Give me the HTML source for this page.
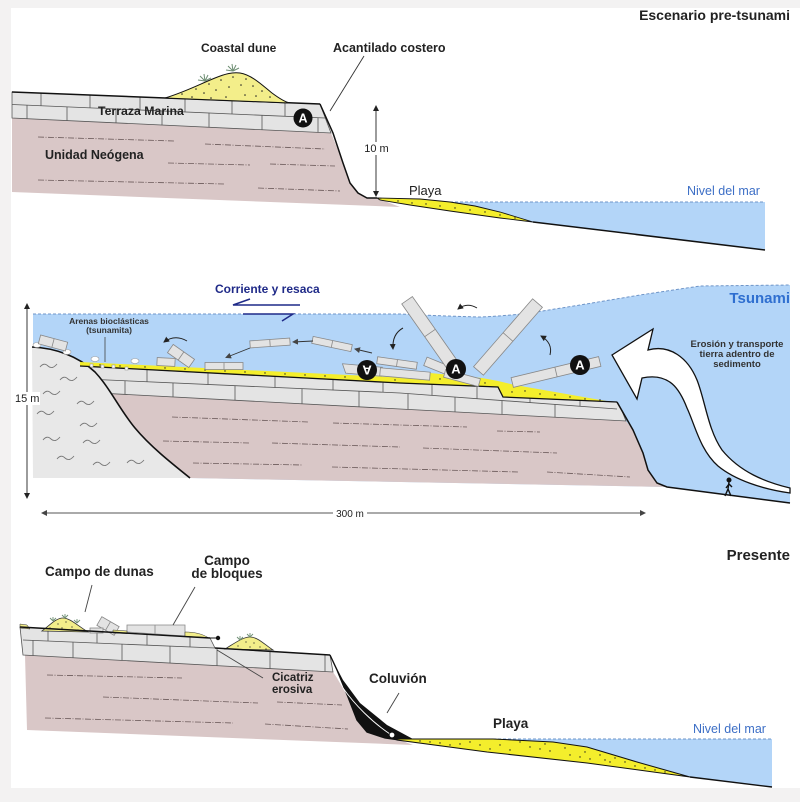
<!DOCTYPE html>
<html><head><meta charset="utf-8"><style>
html,body{margin:0;padding:0;background:#f3f2f2;}
svg{display:block;}
text{font-family:"Liberation Sans",Arial,sans-serif;}
</style></head><body>
<svg width="800" height="802" viewBox="0 0 800 802" xmlns="http://www.w3.org/2000/svg">
<defs>
<marker id="ah" markerWidth="8" markerHeight="8" refX="5" refY="3" orient="auto-start-reverse" markerUnits="userSpaceOnUse"><path d="M0,0 L6,3 L0,6 Z" fill="#222"/></marker>
<marker id="ahg" markerWidth="8" markerHeight="8" refX="5" refY="3" orient="auto-start-reverse" markerUnits="userSpaceOnUse"><path d="M0,0 L6,3 L0,6 Z" fill="#444"/></marker>
</defs>
<rect width="800" height="802" fill="#f3f2f2"/>
<rect x="11" y="8" width="789" height="780" fill="#fff"/>

<!-- ================= TOP PANEL ================= -->
<polygon points="12,118 331,133 338,150 343,163 350,183 358,193 367,198 377,198 400,207 12,192" fill="#d9c7c7"/>
<g stroke="#6b5a5a" stroke-width="0.8" stroke-dasharray="6 1.5 1 1.5">
<line x1="38" y1="137" x2="175" y2="141"/><line x1="205" y1="144" x2="325" y2="149"/>
<line x1="168" y1="163" x2="250" y2="165"/><line x1="270" y1="164" x2="335" y2="166"/>
<line x1="38" y1="180" x2="225" y2="184"/><line x1="258" y1="188" x2="340" y2="191"/>
</g>
<polygon points="12,92 320,104 331,133 12,118" fill="#e4e4e4" stroke="#555" stroke-width="0.8"/>
<g stroke="#555" stroke-width="0.8">
<line x1="12" y1="104.5" x2="325" y2="118"/>
<line x1="41" y1="93.1" x2="41" y2="105.8"/><line x1="90" y1="95" x2="90" y2="107.9"/>
<line x1="140" y1="97" x2="140" y2="110"/><line x1="185" y1="98.7" x2="185" y2="112"/>
<line x1="232" y1="100.6" x2="232" y2="114"/><line x1="285" y1="102.6" x2="285" y2="116.3"/>
<line x1="27" y1="105.1" x2="27" y2="118.7"/><line x1="67" y1="106.9" x2="67" y2="120.6"/>
<line x1="116" y1="109" x2="116" y2="122.9"/><line x1="162" y1="111" x2="162" y2="125.1"/>
<line x1="209" y1="113" x2="209" y2="127.3"/><line x1="262" y1="115.3" x2="262" y2="129.8"/>
<line x1="318" y1="117.7" x2="318" y2="132.4"/>
</g>
<line x1="12" y1="92" x2="320" y2="104" stroke="#111" stroke-width="1.5"/>
<polyline points="320,104 333,133 343,163 350,183 358,193 367,198 377,198" fill="none" stroke="#111" stroke-width="1.5"/>
<!-- dune -->
<path d="M165,98 C185,92 200,84 215,78 C225,74 232,72 240,73 C252,75 262,85 272,93 C280,99 285,102 290,103 Z" fill="#f3ee8a" stroke="#111" stroke-width="1"/>
<g fill="#222">
<circle cx="182" cy="94" r="0.8"/><circle cx="196" cy="89" r="0.8"/><circle cx="209" cy="84" r="0.8"/><circle cx="221" cy="80" r="0.8"/><circle cx="233" cy="77" r="0.8"/><circle cx="246" cy="79" r="0.8"/>
<circle cx="192" cy="97" r="0.8"/><circle cx="204" cy="93" r="0.8"/><circle cx="216" cy="90" r="0.8"/><circle cx="229" cy="87" r="0.8"/><circle cx="241" cy="85" r="0.8"/><circle cx="253" cy="86" r="0.8"/>
<circle cx="262" cy="91" r="0.8"/><circle cx="226" cy="97" r="0.8"/><circle cx="245" cy="95" r="0.8"/><circle cx="270" cy="97" r="0.8"/><circle cx="211" cy="98" r="0.8"/><circle cx="256" cy="96" r="0.8"/>
</g>
<g stroke="#6f8f74" stroke-width="1">
<path d="M205,81 l-5,-5 M205,81 l-1,-7 M205,81 l3,-6 M205,81 l6,-3 M205,81 l-7,-1"/>
<path d="M233,71 l-5,-5 M233,71 l-1,-7 M233,71 l3,-6 M233,71 l6,-3 M233,71 l-7,-1"/>
</g>
<circle cx="303" cy="118" r="9.5" fill="#111"/>
<text x="303" y="122.5" font-size="12.5" font-weight="bold" fill="#fff" text-anchor="middle">A</text>
<!-- water -->
<polygon points="450,202 765,202 765,250 533,222 500,212 475,206" fill="#b3d5f8"/>
<line x1="445" y1="202" x2="765" y2="202" stroke="#6f95c8" stroke-width="1" stroke-dasharray="3 2"/>
<polygon points="377,198 420,199 450,202 475,206 500,212 533,222 500,218 450,211 410,205 380,200" fill="#f4ee2c" stroke="#111" stroke-width="0.9"/>
<g fill="#222">
<circle cx="398" cy="201" r="0.7"/><circle cx="412" cy="203" r="0.7"/><circle cx="426" cy="204" r="0.7"/><circle cx="440" cy="206" r="0.7"/><circle cx="455" cy="208" r="0.7"/><circle cx="470" cy="210" r="0.7"/><circle cx="485" cy="212" r="0.7"/><circle cx="500" cy="215" r="0.7"/><circle cx="515" cy="218" r="0.7"/>
</g>
<line x1="533" y1="222" x2="765" y2="250" stroke="#111" stroke-width="1.5"/>
<line x1="376" y1="106" x2="376" y2="196" stroke="#222" stroke-width="0.9" marker-start="url(#ah)" marker-end="url(#ah)"/>
<rect x="363" y="142" width="27" height="13" fill="#fff"/>
<text x="376.5" y="152" font-size="11" fill="#222" text-anchor="middle">10 m</text>
<line x1="364" y1="56" x2="330" y2="111" stroke="#333" stroke-width="0.9"/>
<text x="790" y="20" font-size="14" font-weight="bold" fill="#222" text-anchor="end">Escenario pre-tsunami</text>
<text x="201" y="52" font-size="12" font-weight="bold" fill="#222">Coastal dune</text>
<text x="333" y="52" font-size="12.5" font-weight="bold" fill="#222">Acantilado costero</text>
<text x="98" y="115" font-size="12.3" font-weight="bold" fill="#222">Terraza Marina</text>
<text x="45" y="159" font-size="12.5" font-weight="bold" fill="#222">Unidad Neógena</text>
<text x="409" y="195" font-size="13" fill="#222">Playa</text>
<text x="687" y="195" font-size="12.5" fill="#3d6fc6">Nivel del mar</text>

<!-- ================= MIDDLE PANEL ================= -->
<path d="M33,314 L400,314 Q440,316 480,317 Q505,316 530,313 L580,305 L640,295 L700,286 L790,285 L790,503 L667,487 L190,478 L33,478 Z" fill="#b3d5f8"/>
<path d="M33,314 L400,314 Q440,316 480,317 Q505,316 530,313 L580,305 L640,295 L700,286 L790,285" fill="none" stroke="#6f95c8" stroke-width="1" stroke-dasharray="3 2"/>
<polygon points="80,392 626,421 633,430 643,453 648,470 657,483 667,487 190,478 80,478" fill="#d9c7c7"/>
<g stroke="#6b5a5a" stroke-width="0.8" stroke-dasharray="6 1.5 1 1.5">
<line x1="172" y1="417" x2="308" y2="422"/><line x1="333" y1="423" x2="467" y2="427"/><line x1="497" y1="431" x2="540" y2="432"/>
<line x1="163" y1="441" x2="250" y2="443"/><line x1="272" y1="443" x2="400" y2="447"/><line x1="423" y1="448" x2="557" y2="453"/>
<line x1="193" y1="463" x2="303" y2="465"/><line x1="332" y1="467" x2="518" y2="472"/><line x1="547" y1="472" x2="630" y2="477"/>
</g>
<polygon points="80,366 400,383 498,387 503,397 617,402 622,411 626,421 80,392" fill="#e4e4e4" stroke="#555" stroke-width="0.8"/>
<g stroke="#555" stroke-width="0.8">
<polyline points="85,379 400,393 617,409" fill="none"/>
<line x1="147" y1="369.8" x2="147" y2="382"/><line x1="208" y1="373.2" x2="208" y2="384.7"/><line x1="275" y1="376.5" x2="275" y2="387.7"/>
<line x1="333" y1="379.6" x2="333" y2="390.3"/><line x1="383" y1="382.2" x2="383" y2="392.5"/><line x1="432" y1="384.5" x2="432" y2="395.4"/>
<line x1="477" y1="386.2" x2="477" y2="398.7"/><line x1="530" y1="398.5" x2="530" y2="402.6"/><line x1="580" y1="401" x2="580" y2="406.3"/>
<line x1="125" y1="380.8" x2="125" y2="394.4"/><line x1="173" y1="382.9" x2="173" y2="396.9"/><line x1="235" y1="385.7" x2="235" y2="400.2"/>
<line x1="302" y1="388.6" x2="302" y2="403.8"/><line x1="359" y1="391.2" x2="359" y2="406.8"/><line x1="408" y1="393.6" x2="408" y2="409.4"/>
<line x1="455" y1="397" x2="455" y2="411.9"/><line x1="502" y1="400.5" x2="502" y2="414.4"/><line x1="555" y1="404.4" x2="555" y2="417.2"/>
</g>
<polyline points="617,402 633,430 643,453 648,470 657,483 667,487 790,503" fill="none" stroke="#111" stroke-width="1.5"/>
<!-- hill -->
<path d="M32,347 C55,348 78,356 95,372 C110,388 120,410 135,428 C150,446 170,462 190,478 L33,478 Z" fill="#e8e8e8"/>
<path d="M32,347 C55,348 78,356 95,372 C110,388 120,410 135,428 C150,446 170,462 190,478" fill="none" stroke="#111" stroke-width="1.6"/>
<g fill="none" stroke="#777" stroke-width="0.9">
<path d="M40,367 q4,-5 8,-1 q4,4 9,-2"/><path d="M60,380 q4,-5 8,-1 q4,4 9,-2"/><path d="M43,394 q4,-5 8,-1 q4,4 9,-2"/>
<path d="M37,414 q4,-5 8,-1 q4,4 9,-2"/><path d="M77,404 q4,-5 8,-1 q4,4 9,-2"/><path d="M80,426 q4,-5 8,-1 q4,4 9,-2"/>
<path d="M43,440 q4,-5 8,-1 q4,4 9,-2"/><path d="M83,443 q4,-5 8,-1 q4,4 9,-2"/><path d="M57,459 q4,-5 8,-1 q4,4 9,-2"/>
<path d="M93,465 q4,-5 8,-1 q4,4 9,-2"/><path d="M127,463 q4,-5 8,-1 q4,4 9,-2"/>
</g>
<!-- tsunamite band -->
<polygon points="80,362 400,377.5 430,373 482,378 498,381 515,385 612,402 503,397 498,387 400,383 80,366" fill="#f4ee2c"/>
<polyline points="80,366 400,383 498,387 503,397 617,402" fill="none" stroke="#111" stroke-width="1.3"/>
<g fill="#222">
<circle cx="100" cy="365" r="0.7"/><circle cx="120" cy="366" r="0.7"/><circle cx="145" cy="367" r="0.7"/><circle cx="165" cy="368" r="0.7"/><circle cx="185" cy="369" r="0.7"/><circle cx="205" cy="370" r="0.7"/>
<circle cx="225" cy="371" r="0.7"/><circle cx="245" cy="372" r="0.7"/><circle cx="265" cy="373" r="0.7"/><circle cx="285" cy="374" r="0.7"/><circle cx="305" cy="375" r="0.7"/><circle cx="325" cy="376" r="0.7"/>
<circle cx="345" cy="377" r="0.7"/><circle cx="395" cy="380" r="0.7"/><circle cx="440" cy="379" r="0.7"/><circle cx="460" cy="381" r="0.7"/><circle cx="485" cy="383" r="0.7"/>
<circle cx="512" cy="392" r="0.7"/><circle cx="525" cy="391" r="0.7"/><circle cx="540" cy="394" r="0.7"/><circle cx="555" cy="395" r="0.7"/><circle cx="570" cy="397" r="0.7"/><circle cx="585" cy="399" r="0.7"/><circle cx="600" cy="400" r="0.7"/>
</g>
<g fill="#fff" stroke="#999" stroke-width="0.6">
<rect x="90" y="364" width="3" height="3"/><rect x="101" y="365" width="3" height="3"/><rect x="112" y="365" width="3" height="3"/><rect x="125" y="367" width="3" height="3"/>
<ellipse cx="37" cy="345" rx="4" ry="2.5"/><ellipse cx="67" cy="352" rx="4" ry="2.5"/><ellipse cx="95" cy="359" rx="4" ry="2.5"/><ellipse cx="135" cy="361" rx="4" ry="2.5"/>
</g>
<!-- blocks -->
<g fill="#e3e3e3" stroke="#888" stroke-width="0.8">
<g transform="translate(53,343) rotate(15)"><rect x="-14" y="-4.5" width="28" height="9"/><line x1="0" y1="-4.5" x2="0" y2="4.5"/></g>
<g transform="translate(166,362) rotate(3)"><rect x="-9" y="-4" width="18" height="8"/></g>
<g transform="translate(181,356) rotate(35)"><rect x="-13" y="-5" width="26" height="10"/><line x1="0" y1="-5" x2="0" y2="5"/></g>
<g transform="translate(224,366) rotate(0)"><rect x="-19" y="-3.5" width="38" height="7"/><line x1="0" y1="-3.5" x2="0" y2="3.5"/></g>
<g transform="translate(270,343) rotate(-4)"><rect x="-20" y="-3.5" width="40" height="7"/><line x1="0" y1="-3.5" x2="0" y2="3.5"/></g>
<g transform="translate(332,344) rotate(12)"><rect x="-20" y="-3.5" width="40" height="7"/><line x1="0" y1="-3.5" x2="0" y2="3.5"/></g>
<g transform="translate(362,370) rotate(5)"><polygon points="-20,-4.5 20,-4.5 20,4.5 -16,4.5"/></g>
<g transform="translate(397,363) rotate(8)"><rect x="-20" y="-3.5" width="40" height="7"/><line x1="0" y1="-3.5" x2="0" y2="3.5"/></g>
<g transform="translate(405,374) rotate(5)"><rect x="-25" y="-4" width="50" height="8"/></g>
<g transform="translate(437,366) rotate(22)"><rect x="-12.5" y="-4.5" width="25" height="9"/></g>
<g transform="translate(462,378) rotate(15)"><rect x="-18" y="-4" width="36" height="8"/></g>
<g transform="translate(430,333) rotate(55)"><rect x="-40" y="-6.5" width="80" height="13"/><line x1="0" y1="-6.5" x2="0" y2="6.5"/></g>
<g transform="translate(508,337) rotate(131)"><rect x="-45" y="-6.5" width="90" height="13"/><line x1="0" y1="-6.5" x2="0" y2="6.5"/></g>
<g transform="translate(556,372) rotate(-13.5)"><rect x="-45" y="-5" width="90" height="10"/><line x1="0" y1="-5" x2="0" y2="5"/></g>
</g>
<g>
<circle cx="367" cy="370" r="10" fill="#111"/>
<text x="367" y="374.5" font-size="13" font-weight="bold" fill="#fff" text-anchor="middle" transform="rotate(180 367 370)">A</text>
<circle cx="456" cy="369" r="10" fill="#111"/>
<text x="456" y="373.5" font-size="13" font-weight="bold" fill="#fff" text-anchor="middle">A</text>
<circle cx="580" cy="365" r="10" fill="#111"/>
<text x="580" y="369.5" font-size="13" font-weight="bold" fill="#fff" text-anchor="middle">A</text>
</g>
<!-- arrows -->
<g fill="none" stroke="#222" stroke-width="1">
<path d="M187,341 Q175,334 164,342" marker-end="url(#ah)"/>
<path d="M403,328 Q392,334 393,349" marker-end="url(#ah)"/>
<path d="M477,308 Q467,302 458,309" marker-end="url(#ah)"/>
<path d="M550,355 Q553,343 541,336" marker-end="url(#ah)"/>
</g>
<g stroke="#333" stroke-width="0.9">
<line x1="250" y1="348" x2="226" y2="357.5" marker-end="url(#ahg)"/>
<line x1="313" y1="341" x2="293" y2="342" marker-end="url(#ahg)"/>
<line x1="372" y1="353" x2="355" y2="349" marker-end="url(#ahg)"/>
</g>
<g stroke="#1f2a88" stroke-width="1.5" fill="none">
<polyline points="250,299 233,305 300,305"/>
<polyline points="243,314 293,314 282,321"/>
</g>
<!-- big white arrow -->
<path d="M612,355 L653,329 L648,350 C670,344 688,358 697,380 C705,400 708,430 722,450 C740,472 765,482 790,488 L790,493 C762,489 735,480 718,466 C700,450 695,425 687,408 C680,390 670,372 642,378 L637,399 Z" fill="#fff" stroke="#111" stroke-width="1.3"/>
<!-- person -->
<g stroke="#111" stroke-width="1.4" fill="none">
<circle cx="729" cy="480" r="1.8" fill="#111"/>
<line x1="729" y1="482" x2="728" y2="489"/><line x1="728" y1="489" x2="725" y2="496"/><line x1="728" y1="489" x2="731" y2="496"/>
<line x1="729" y1="484" x2="726" y2="488"/><line x1="729" y1="484" x2="732" y2="487"/>
</g>
<!-- dimensions -->
<line x1="27" y1="304" x2="27" y2="498" stroke="#222" stroke-width="0.9" marker-start="url(#ah)" marker-end="url(#ah)"/>
<rect x="14" y="392" width="26" height="13" fill="#fff"/>
<text x="15" y="402" font-size="11" fill="#222">15 m</text>
<line x1="42" y1="513" x2="645" y2="513" stroke="#555" stroke-width="1" marker-start="url(#ahg)" marker-end="url(#ahg)"/>
<rect x="333" y="506" width="34" height="13" fill="#fff"/>
<text x="350" y="517" font-size="10" fill="#222" text-anchor="middle">300 m</text>
<line x1="105" y1="337" x2="105" y2="362" stroke="#444" stroke-width="0.8"/>
<text x="109" y="324" font-size="8.5" font-weight="bold" fill="#333" text-anchor="middle">Arenas bioclásticas</text>
<text x="109" y="333" font-size="8.5" font-weight="bold" fill="#333" text-anchor="middle">(tsunamita)</text>
<text x="215" y="293" font-size="12" font-weight="bold" fill="#1f2a88">Corriente y resaca</text>
<text x="790" y="303" font-size="15" font-weight="bold" fill="#2f6fd0" text-anchor="end">Tsunami</text>
<text x="737" y="347" font-size="9.5" font-weight="bold" fill="#333" text-anchor="middle">Erosión y transporte</text>
<text x="737" y="357" font-size="9.5" font-weight="bold" fill="#333" text-anchor="middle">tierra adentro de</text>
<text x="737" y="367" font-size="9.5" font-weight="bold" fill="#333" text-anchor="middle">sedimento</text>

<!-- ================= BOTTOM PANEL ================= -->
<polygon points="25,655 333,672 337,678 348,697 357,720 367,732 385,738 400,740 413,745 27,730" fill="#d9c7c7"/>
<g stroke="#6b5a5a" stroke-width="0.8" stroke-dasharray="6 1.5 1 1.5">
<line x1="47" y1="675" x2="182" y2="678"/><line x1="103" y1="697" x2="258" y2="703"/><line x1="277" y1="702" x2="342" y2="705"/>
<line x1="45" y1="718" x2="233" y2="723"/><line x1="265" y1="724" x2="348" y2="729"/>
</g>
<polygon points="20,627 210,638 215,648 330,655 333,672 23,655" fill="#e4e4e4" stroke="#555" stroke-width="0.8"/>
<g stroke="#555" stroke-width="0.8">
<polyline points="23,640 215,648 330,655" fill="none"/>
<line x1="48" y1="628.6" x2="48" y2="641"/><line x1="97" y1="631.4" x2="97" y2="643.1"/><line x1="147" y1="634.4" x2="147" y2="645.2"/><line x1="190" y1="636.8" x2="190" y2="647"/>
<line x1="33" y1="640.4" x2="33" y2="655.5"/><line x1="73" y1="642.1" x2="73" y2="657.7"/><line x1="122" y1="644.1" x2="122" y2="660.4"/><line x1="170" y1="646.1" x2="170" y2="663.1"/>
<line x1="217" y1="648.1" x2="217" y2="665.6"/><line x1="270" y1="651.3" x2="270" y2="668.5"/><line x1="325" y1="654.7" x2="325" y2="671.6"/>
</g>
<!-- surface features -->
<polygon points="20,624 27,625 30,629 20,628" fill="#f3ee8a" stroke="#333" stroke-width="0.5"/>
<path d="M42,631 C50,625 56,618 63,618 C70,618 78,626 88,632 Z" fill="#f3ee8a" stroke="#333" stroke-width="0.8"/>
<g fill="#e3e3e3" stroke="#888" stroke-width="0.8">
<g transform="translate(108,626) rotate(30)"><rect x="-10" y="-5" width="20" height="10"/><line x1="0" y1="-5" x2="0" y2="5"/></g>
<rect x="90" y="628" width="13" height="5"/>
<polygon points="127,625 185,625 185,636 127,632"/><line x1="155" y1="625" x2="155" y2="634"/>
</g>
<polygon points="113,630 127,631 127,633.5 113,633" fill="#f3ee8a" stroke="#333" stroke-width="0.5"/>
<path d="M185,632 C195,632 202,634 208,637.5 L185,636.3 Z" fill="#f3ee8a" stroke="#333" stroke-width="0.5"/>
<line x1="20" y1="627" x2="210" y2="638" stroke="#111" stroke-width="1.4"/>
<line x1="210" y1="638" x2="218" y2="638" stroke="#111" stroke-width="1"/>
<circle cx="218" cy="638" r="2.2" fill="#111"/>
<path d="M225,649 C235,643 243,637 250,637 C258,637 265,645 273,650 Z" fill="#f3ee8a" stroke="#333" stroke-width="0.8"/>
<line x1="215" y1="648" x2="330" y2="655" stroke="#111" stroke-width="1.4"/>
<polyline points="330,655 337,670 348,697 357,720 367,732 385,738 400,740" fill="none" stroke="#111" stroke-width="1.4"/>
<g fill="#222">
<circle cx="50" cy="628" r="0.6"/><circle cx="58" cy="624" r="0.6"/><circle cx="66" cy="622" r="0.6"/><circle cx="62" cy="628" r="0.6"/><circle cx="72" cy="627" r="0.6"/><circle cx="78" cy="630" r="0.6"/>
<circle cx="238" cy="646" r="0.6"/><circle cx="246" cy="642" r="0.6"/><circle cx="254" cy="643" r="0.6"/><circle cx="250" cy="647" r="0.6"/><circle cx="260" cy="647" r="0.6"/><circle cx="266" cy="649" r="0.6"/>
</g>
<g stroke="#6f8f74" stroke-width="0.9">
<path d="M53,621 l-3,-3 M53,621 l0,-4 M53,621 l3,-3"/><path d="M65,618 l-3,-3 M65,618 l0,-4 M65,618 l3,-3"/><path d="M77,623 l-3,-3 M77,623 l0,-4 M77,623 l3,-3"/>
<path d="M240,640 l-3,-3 M240,640 l0,-4 M240,640 l3,-3"/><path d="M250,637 l-3,-3 M250,637 l0,-4 M250,637 l3,-3"/>
</g>
<!-- colluvium -->
<polygon points="333,661 343,680 360,703 387,725 413,739 400,740 385,738 367,732 357,720 348,697 337,670" fill="#111"/>
<path d="M343,688 C355,705 372,722 390,734" fill="none" stroke="#fff" stroke-width="0.9"/>
<circle cx="392" cy="735" r="2.8" fill="#fff" stroke="#111" stroke-width="0.8"/>
<!-- water & beach -->
<polygon points="493,739 772,739 772,787 690,777 637,762 587,747 553,742" fill="#b3d5f8"/>
<line x1="493" y1="739" x2="772" y2="739" stroke="#6f95c8" stroke-width="1" stroke-dasharray="3 2"/>
<polygon points="397,739 493,739 553,742 587,747 637,762 690,777 587,763 487,752 397,740" fill="#f4ee2c" stroke="#111" stroke-width="1"/>
<g fill="#222">
<circle cx="420" cy="741" r="0.7"/><circle cx="440" cy="743" r="0.7"/><circle cx="460" cy="744" r="0.7"/><circle cx="480" cy="745" r="0.7"/><circle cx="470" cy="742" r="0.7"/><circle cx="500" cy="745" r="0.7"/>
<circle cx="510" cy="750" r="0.7"/><circle cx="520" cy="742" r="0.7"/><circle cx="530" cy="747" r="0.7"/><circle cx="545" cy="744" r="0.7"/><circle cx="550" cy="751" r="0.7"/><circle cx="565" cy="748" r="0.7"/>
<circle cx="570" cy="755" r="0.7"/><circle cx="585" cy="752" r="0.7"/><circle cx="590" cy="759" r="0.7"/><circle cx="600" cy="755" r="0.7"/><circle cx="610" cy="762" r="0.7"/><circle cx="615" cy="758" r="0.7"/>
<circle cx="625" cy="762" r="0.7"/><circle cx="635" cy="766" r="0.7"/><circle cx="645" cy="768" r="0.7"/><circle cx="655" cy="770" r="0.7"/><circle cx="665" cy="772" r="0.7"/><circle cx="450" cy="745" r="0.7"/>
<circle cx="430" cy="742" r="0.7"/><circle cx="490" cy="749" r="0.7"/><circle cx="540" cy="749" r="0.7"/><circle cx="580" cy="757" r="0.7"/><circle cx="605" cy="760" r="0.7"/>
</g>
<line x1="690" y1="777" x2="772" y2="787" stroke="#111" stroke-width="1.4"/>
<!-- leaders -->
<g stroke="#444" stroke-width="0.9">
<line x1="92" y1="585" x2="85" y2="612"/>
<line x1="195" y1="587" x2="173" y2="625"/>
<line x1="217" y1="650" x2="263" y2="678"/>
<line x1="399" y1="693" x2="387" y2="713"/>
</g>
<text x="790" y="560" font-size="15" font-weight="bold" fill="#222" text-anchor="end">Presente</text>
<text x="45" y="576" font-size="13.5" font-weight="bold" fill="#222">Campo de dunas</text>
<text x="227" y="565" font-size="13.5" font-weight="bold" fill="#222" text-anchor="middle">Campo</text>
<text x="227" y="578" font-size="13.5" font-weight="bold" fill="#222" text-anchor="middle">de bloques</text>
<text x="272" y="681" font-size="11.5" font-weight="bold" fill="#222">Cicatriz</text>
<text x="272" y="693" font-size="11.5" font-weight="bold" fill="#222">erosiva</text>
<text x="369" y="683" font-size="13.5" font-weight="bold" fill="#222">Coluvión</text>
<text x="493" y="728" font-size="13.5" font-weight="bold" fill="#222">Playa</text>
<text x="693" y="733" font-size="12.5" fill="#3d6fc6">Nivel del mar</text>
</svg>
</body></html>
